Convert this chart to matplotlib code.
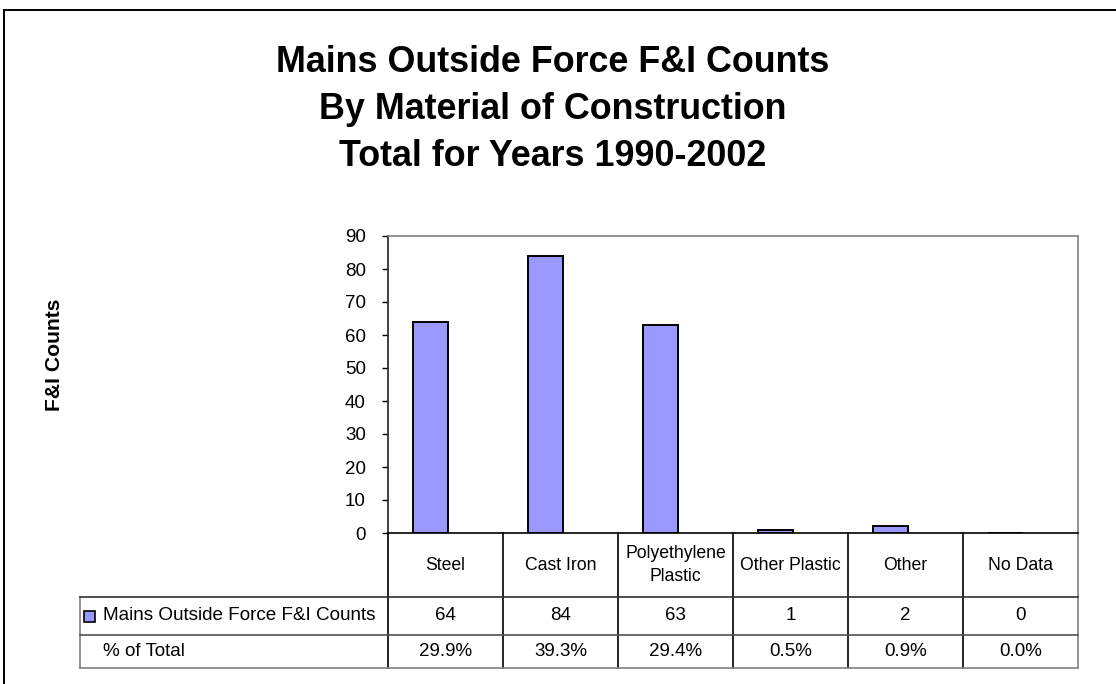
import matplotlib
matplotlib.use("Agg")
import matplotlib.pyplot as plt
from matplotlib.transforms import blended_transform_factory
from matplotlib.patches import Rectangle
from matplotlib.lines import Line2D

plt.rcParams['font.family'] = ['Liberation Sans', 'DejaVu Sans']

# Data
categories = ["Steel", "Cast Iron", "Polyethylene\nPlastic", "Other Plastic", "Other", "No Data"]
counts = [64, 84, 63, 1, 2, 0]
pct_labels = ["29.9%", "39.3%", "29.4%", "0.5%", "0.9%", "0.0%"]
series_name = "Mains Outside Force F&I Counts"
pct_row_name = "% of Total"
title_lines = ["Mains Outside Force F&I Counts",
               "By Material of Construction",
               "Total for Years 1990-2002"]
y_label = "F&I Counts"
y_ticks = list(range(0, 91, 10))

BAR_COLOR = "#9999FF"
GRID_GRAY = "#808080"

W, H = 1116, 684
fig = plt.figure(figsize=(W / 100, H / 100), dpi=100)
fig.patch.set_facecolor("white")

# Plot area in pixel terms
left_px, right_px, top_px, bottom_px = 388, 1078, 236, 533
ax = fig.add_axes([left_px / W, 1 - bottom_px / H,
                   (right_px - left_px) / W, (bottom_px - top_px) / H])

n = len(categories)
xs = list(range(n))
ax.bar([x - 0.13 for x in xs], counts, width=0.3, color=BAR_COLOR,
       edgecolor="black", linewidth=1.4, zorder=3)

ax.set_xlim(-0.5, n - 0.5)
ax.set_ylim(0, 90)
ax.set_yticks(y_ticks)
ax.set_yticklabels([str(t) for t in y_ticks], fontsize=13.5)
ax.tick_params(axis="y", direction="out", length=4, width=1, pad=12, colors="black")
ax.tick_params(axis="x", length=0, labelbottom=False)
ax.spines["left"].set_color("#202020")
ax.spines["bottom"].set_color("black")
ax.spines["top"].set_color(GRID_GRAY)
ax.spines["right"].set_color(GRID_GRAY)
for s in ax.spines.values():
    s.set_linewidth(1.2)

# Data table beneath the plot
tr = blended_transform_factory(ax.transData, ax.transAxes)
ph = bottom_px - top_px
def ay(py):
    return (bottom_px - py) / ph

px_per_unit = (right_px - left_px) / n
def dx(px):
    return -0.5 + (px - left_px) / px_per_unit

row_cat_bot, row_ser_bot, row_pct_bot = 597, 635, 668
table_left = 80

# column separators
for i in range(n + 1):
    xline = i - 0.5
    color = GRID_GRAY if i == n else "black"
    ax.add_line(Line2D([xline, xline], [ay(bottom_px), ay(row_pct_bot)], transform=tr,
                       color=color, linewidth=1.2, clip_on=False))
ax.add_line(Line2D([dx(table_left), dx(table_left)], [ay(row_cat_bot), ay(row_pct_bot)],
                   transform=tr, color=GRID_GRAY, linewidth=1.2, clip_on=False))
for yb, col in [(row_cat_bot, "#303030"), (row_ser_bot, "#505050"), (row_pct_bot, GRID_GRAY)]:
    ax.add_line(Line2D([dx(table_left), n - 0.5], [ay(yb), ay(yb)], transform=tr,
                       color=col, linewidth=1.2, clip_on=False))

cat_center = ay((bottom_px + row_cat_bot) / 2)
ser_center = ay((row_cat_bot + row_ser_bot) / 2)
pct_center = ay((row_ser_bot + row_pct_bot) / 2)
for x, cat, v, p in zip(xs, categories, counts, pct_labels):
    ax.text(x, cat_center, cat, transform=tr, ha="center", va="center",
            fontsize=12.7, linespacing=1.45, clip_on=False)
    ax.text(x, ser_center, str(v), transform=tr, ha="center", va="center",
            fontsize=13.5, clip_on=False)
    ax.text(x, pct_center, p, transform=tr, ha="center", va="center",
            fontsize=13.5, clip_on=False)

# legend key and row headers
key = Rectangle((dx(84), ay(622)), dx(95) - dx(84), ay(611) - ay(622), transform=tr,
                facecolor=BAR_COLOR, edgecolor="black", linewidth=1.2, clip_on=False)
ax.add_patch(key)
ax.text(dx(103), ser_center, series_name, transform=tr, ha="left", va="center",
        fontsize=13.6, clip_on=False)
ax.text(dx(103), pct_center, pct_row_name, transform=tr, ha="left", va="center",
        fontsize=13.6, clip_on=False)

# Title
for line, base in zip(title_lines, [72, 119, 166]):
    fig.text(553 / W, 1 - base / H, line, ha="center", va="baseline",
             fontsize=25.8, fontweight="bold")

# Y-axis title
fig.text(54 / W, 1 - 355 / H, y_label, rotation=90, ha="center", va="center",
         fontsize=15.2, fontweight="bold")

# Chart border
fig.add_artist(Line2D([4 / W, 4 / W], [0, 1 - 10 / H], transform=fig.transFigure,
                      color="black", linewidth=1.4))
fig.add_artist(Line2D([4 / W, 1], [1 - 10 / H, 1 - 10 / H], transform=fig.transFigure,
                      color="black", linewidth=1.4))

fig.savefig("out.png", dpi=100, facecolor="white")
